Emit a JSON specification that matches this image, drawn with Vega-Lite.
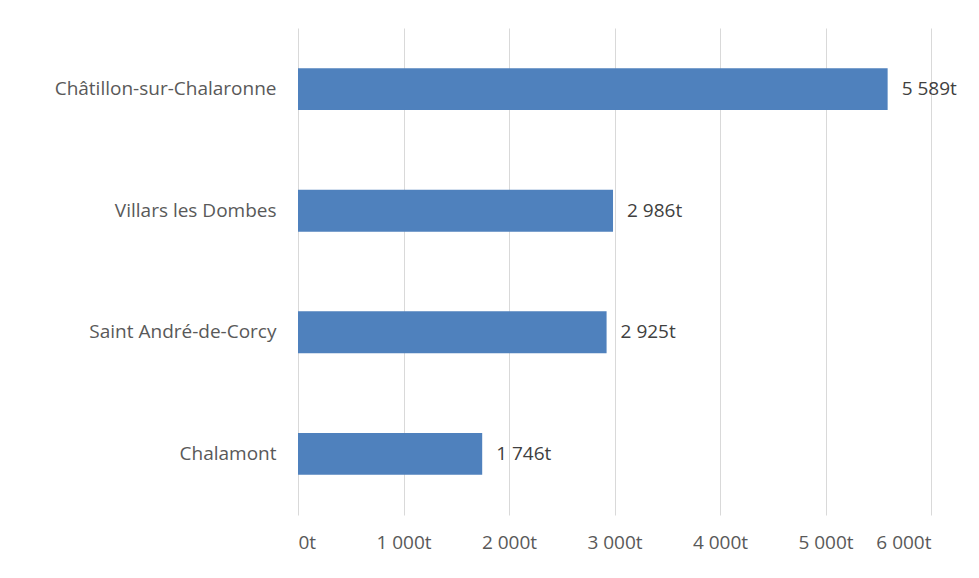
{
  "$schema": "https://vega.github.io/schema/vega-lite/v6.json",
  "autosize": "none",
  "width": 633,
  "height": 487,
  "padding": {"left": 298, "top": 28, "right": 48, "bottom": 63},
  "background": "white",
  "config": {
    "locale": {"number": {"decimal": ",", "thousands": " ", "grouping": [3], "currency": ["", " €"]}},
    "view": {"stroke": null},
    "font": "Open Sans"
  },
  "data": {
    "values": [
      {"commune": "Châtillon-sur-Chalaronne", "tonnes": 5589},
      {"commune": "Villars les Dombes", "tonnes": 2986},
      {"commune": "Saint André-de-Corcy", "tonnes": 2925},
      {"commune": "Chalamont", "tonnes": 1746}
    ]
  },
  "transform": [{"calculate": "format(datum.tonnes, ',') + 't'", "as": "lab"}],
  "encoding": {
    "y": {
      "field": "commune",
      "type": "nominal",
      "sort": null,
      "scale": {"paddingInner": 0.655, "paddingOuter": 0.33},
      "axis": {
        "title": null,
        "domain": false,
        "ticks": false,
        "labelPadding": 22,
        "labelFontSize": 19,
        "labelColor": "#595959",
        "labelFont": "Open Sans",
        "labelLimit": 300
      }
    },
    "x": {
      "field": "tonnes",
      "type": "quantitative",
      "scale": {"domain": [0, 6000], "nice": false},
      "axis": {
        "title": null,
        "values": [0, 1000, 2000, 3000, 4000, 5000, 6000],
        "labelExpr": "format(datum.value, ',') + 't'",
        "domain": false,
        "ticks": false,
        "grid": true,
        "gridColor": "#d9d9d9",
        "gridWidth": 1,
        "labelPadding": 18,
        "labelFontSize": 19,
        "labelColor": "#595959",
        "labelFont": "Open Sans"
      }
    }
  },
  "layer": [
    {"mark": {"type": "bar", "color": "#4F81BD"}},
    {
      "mark": {"type": "text", "align": "left", "dx": 14, "fontSize": 19, "color": "#404040", "font": "Open Sans"},
      "encoding": {"text": {"field": "lab"}}
    }
  ]
}
